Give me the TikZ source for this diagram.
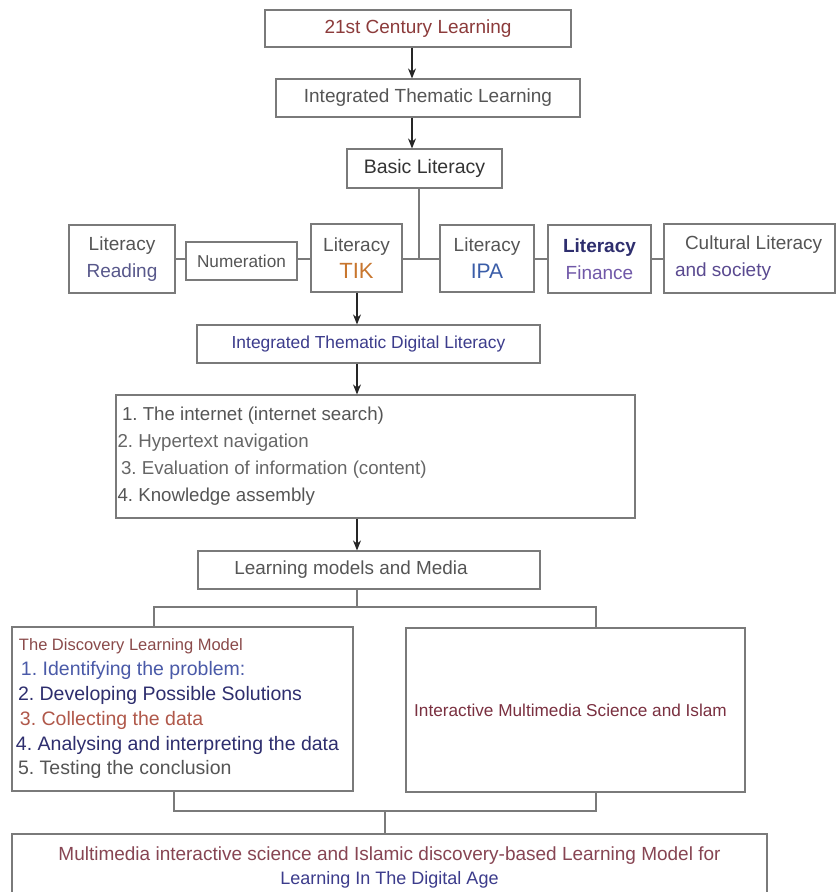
\documentclass[tikz,border=0pt]{standalone}
\usepackage{fontspec}
\setmainfont{Liberation Sans}
\usetikzlibrary{arrows.meta,calc}
\definecolor{linegray}{HTML}{7A7A7A}
\definecolor{cred}{HTML}{8C3B3B}
\definecolor{cgray}{HTML}{555555}
\definecolor{cdark}{HTML}{333333}
\definecolor{clight}{HTML}{666666}
\definecolor{cnavy}{HTML}{2E2E6E}
\definecolor{cblue}{HTML}{3A5DA8}
\definecolor{cblue2}{HTML}{4A5AA8}
\definecolor{corange}{HTML}{C8762E}
\definecolor{cpurple}{HTML}{7058A8}
\definecolor{csoc}{HTML}{5A4A90}
\definecolor{citdl}{HTML}{3C3C8C}
\definecolor{cdisc}{HTML}{8A4A4A}
\definecolor{ccoll}{HTML}{B0584A}
\definecolor{cimm}{HTML}{7A3040}
\frenchspacing
\newcommand\myfs[2]{\fontsize{#1}{#2}\selectfont}
\newcommand\natsp{\frenchspacing\spaceskip=0pt\relax\xspaceskip=0pt\relax}
\begin{document}
\begin{tikzpicture}[x=1pt,y=-1pt,
  box/.style={draw=linegray, line width=1.2pt, inner sep=0pt, align=center, fill=white},
  arr/.style={draw=black!85, line width=1.1pt, -{Stealth[length=10pt,width=8pt]}},
  con/.style={draw=linegray, line width=1.2pt},
]
\useasboundingbox (0,0) rectangle (837,892);
\clip (0,0) rectangle (837,892);
\fill[white] (0,0) rectangle (837,892);

% helper coordinates
\coordinate (ax1) at (412,0);
\coordinate (bx) at (419,0);
\coordinate (hy) at (0,259);
\coordinate (ax2) at (357,0);
\coordinate (by) at (0,607);
\coordinate (lx) at (154,0);
\coordinate (rx) at (596,0);
\coordinate (lx2) at (174,0);
\coordinate (cy) at (0,811);
\coordinate (mx) at (385,0);

% top chain
\node[box, minimum width=306pt, minimum height=37pt, font=\myfs{19}{23}, text=cred] (n1) at (418,28.5) {\natsp 21st Century Learning};
\node[box, minimum width=304pt, minimum height=38pt, font=\myfs{19}{23}, text=cgray] (n2) at (428,98) {\natsp Integrated Thematic Learning};
\node[box, minimum width=155pt, minimum height=39pt, font=\myfs{19.5}{23}, text=cdark] (n3) at (424.5,168.5) {\natsp Basic Literacy};

% row of literacies
\node[box, minimum width=106pt, minimum height=68pt, font=\myfs{19}{27}] (rd) at (122,259)
  {\textcolor{cgray}{Literacy}\\\textcolor{cnavy!80}{Reading}};
\node[box, minimum width=111pt, minimum height=38pt, font=\myfs{17.2}{21}, text=cgray] (num) at (241.5,261) {Numeration};
\node[box, minimum width=91pt, minimum height=68pt, font=\myfs{19}{27}] (tik) at (356.5,258)
  {\textcolor{cgray}{Literacy}\\\textcolor{corange}{\myfs{22}{27}TIK}};
\node[box, minimum width=94pt, minimum height=67pt, font=\myfs{19}{27}] (ipa) at (487,258.5)
  {\textcolor{cgray}{Literacy}\\\textcolor{cblue}{\myfs{21}{27}IPA}};
\node[box, minimum width=103pt, minimum height=68pt, font=\myfs{19}{27}] (fin) at (599.5,259)
  {\textcolor{cnavy}{\bfseries Literacy}\\\textcolor{cpurple}{Finance}};
\node[box, minimum width=171pt, minimum height=69pt, align=left, text width=149pt, inner xsep=11pt, font=\myfs{19}{27}] (cul) at (749.5,258.5)
  {\natsp\hspace*{10pt}\textcolor{cgray}{Cultural Literacy}\\\textcolor{csoc}{and society}};

% digital literacy
\node[box, minimum width=343pt, minimum height=38pt, font=\myfs{17.4}{21}, text=citdl] (itdl) at (368.5,344) {\natsp Integrated Thematic Digital Literacy};
\node[box, minimum width=519pt, minimum height=123pt, align=left, text width=516pt, inner xsep=1.5pt, font=\myfs{18.7}{27}] (list) at (375.5,456.5)
  {\natsp\hspace*{4.5pt}\textcolor{cgray}{1. The internet (internet search)}\\
   \textcolor{clight}{2. Hypertext navigation}\\
   \hspace*{3.5pt}\textcolor{clight}{3. Evaluation of information (content)}\\
   \textcolor{cgray}{4. Knowledge assembly}};

\node[box, minimum width=342pt, minimum height=38pt, font=\myfs{18.9}{23}, text=cgray] (lm) at (369,570) {\natsp\hspace*{-36pt}Learning models and Media};

% two models
\node[box, minimum width=341pt, minimum height=164pt, align=left, text width=333pt, inner xsep=4pt, font=\myfs{19.5}{24.8}] (dm) at (182.5,709)
  {\natsp\hspace*{3pt}\textcolor{cdisc}{\myfs{16.5}{24.8}The Discovery Learning Model}\\
   \hspace*{5pt}\textcolor{cblue2}{1. Identifying the problem:}\\
   \hspace*{2pt}\textcolor{cnavy}{2. Developing Possible Solutions}\\
   \hspace*{4pt}\textcolor{ccoll}{3. Collecting the data}\\
   \textcolor{cnavy}{4. Analysing and interpreting the data}\\
   \hspace*{2pt}\textcolor{cgray}{5. Testing the conclusion}};
\node[box, minimum width=339pt, minimum height=164pt, font=\myfs{17.2}{21}, text=cimm] (im) at (575.5,710)
  {\natsp\hspace*{-10pt}Interactive Multimedia Science and Islam};

% bottom
\node[box, minimum width=755pt, minimum height=67pt, font=\myfs{19}{23.5}] (bb) at (389.5,867.5)
  {\natsp\textcolor{cimm!90}{Multimedia interactive science and Islamic discovery-based Learning Model for}\\
   \textcolor{citdl}{\myfs{18}{23.5}Learning In The Digital Age}};

% connectors
\draw[arr] (n1.south -| ax1) -- (n2.north -| ax1);
\draw[arr] (n2.south -| ax1) -- (n3.north -| ax1);
\draw[con] (n3.south -| bx) -- (bx |- hy);
\draw[con] (rd.east |- hy) -- (num.west |- hy);
\draw[con] (num.east |- hy) -- (tik.west |- hy);
\draw[con] (tik.east |- hy) -- (ipa.west |- hy);
\draw[con] (ipa.east |- hy) -- (fin.west |- hy);
\draw[con] (fin.east |- hy) -- (cul.west |- hy);
\draw[arr] (tik.south -| ax2) -- (itdl.north -| ax2);
\draw[arr] (itdl.south -| ax2) -- (list.north -| ax2);
\draw[arr] (list.south -| ax2) -- (lm.north -| ax2);
\draw[con] (lm.south -| ax2) -- (ax2 |- by);
\draw[con] (dm.north -| lx) -- (lx |- by) -- (rx |- by) -- (im.north -| rx);
\draw[con] (dm.south -| lx2) -- (lx2 |- cy) -- (rx |- cy) -- (im.south -| rx);
\draw[con] (mx |- cy) -- (bb.north -| mx);
\end{tikzpicture}
\end{document}
